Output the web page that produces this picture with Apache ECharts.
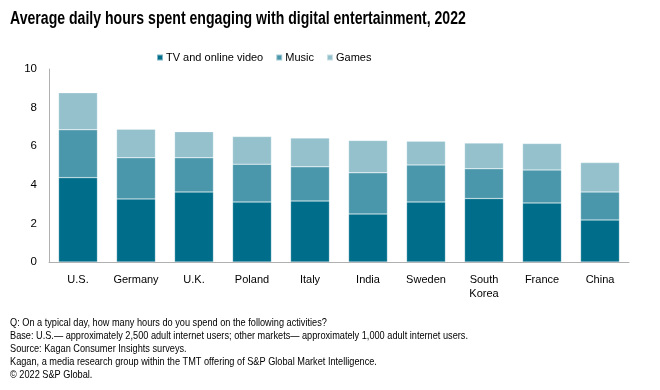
<!DOCTYPE html>
<html><head><meta charset="utf-8">
<script src="https://cdn.jsdelivr.net/npm/echarts@6/dist/echarts.min.js"></script>
<style>html,body{margin:0;padding:0;background:#fff}#c{width:660px;height:390px}</style>
</head><body><div id="c"></div>
<script>
const categories = ["U.S.", "Germany", "U.K.", "Poland", "Italy", "India", "Sweden", "South\nKorea", "France", "China"];
const tvVideo = [4.37, 3.27, 3.63, 3.11, 3.16, 2.49, 3.11, 3.29, 3.06, 2.18];
const music   = [2.48, 2.13, 1.77, 1.96, 1.77, 2.13, 1.92, 1.54, 1.71, 1.45];
const games   = [1.92, 1.48, 1.35, 1.43, 1.49, 1.68, 1.23, 1.33, 1.37, 1.52];
const yTicks = [0, 2, 4, 6, 8, 10];
const titleText = 'Average daily hours spent engaging with digital entertainment, 2022';
const footnote = [
  "Q: On a typical day, how many hours do you spend on the following activities?",
  "Base: U.S.\u2014 approximately 2,500 adult internet users; other markets\u2014 approximately 1,000 adult internet users.",
  "Source: Kagan Consumer Insights surveys.",
  "Kagan, a media research group within the TMT offering of S&P Global Market Intelligence.",
  "\u00a9 2022 S&P Global."
];
const FONT = '"Liberation Sans", Arial, sans-serif';
const chart = echarts.init(document.getElementById('c'), null, {renderer: 'canvas'});
const mk = (name, data, color) => ({
  name, type: 'bar', stack: 'total', data, barWidth: '67%',
  itemStyle: {color, borderColor: 'rgba(255,255,255,0.5)', borderWidth: 0.5},
  emphasis: {disabled: true}
});
chart.setOption({
  animation: false,
  textStyle: {fontFamily: FONT},
  graphic: [
    {type: 'text', x: 10, y: 10, scaleX: 0.805, silent: true,
     style: {text: titleText, font: 'bold 17.5px ' + FONT, fill: '#000', verticalAlign: 'top'}},
    {type: 'text', x: 10, y: 316, scaleX: 0.835, silent: true,
     style: {text: footnote.join('\n'), font: '11px ' + FONT, fill: '#000', verticalAlign: 'top', lineHeight: 13}}
  ],
  legend: {
    left: 151, top: 47, itemWidth: 6, itemHeight: 6, itemGap: 12, icon: 'rect',
    textStyle: {fontFamily: FONT, fontSize: 11, color: '#000', padding: [0, 0, 0, -2]},
    data: ['TV and online video', 'Music', 'Games']
  },
  grid: {left: 49, right: 31, top: 69, bottom: 128, containLabel: false},
  xAxis: {
    type: 'category', data: categories,
    axisLine: {lineStyle: {color: '#b0b0b0', width: 1}},
    axisTick: {show: false},
    axisLabel: {fontFamily: FONT, fontSize: 11, color: '#000', margin: 11, lineHeight: 14, interval: 0}
  },
  yAxis: {
    type: 'value', min: yTicks[0], max: yTicks[yTicks.length - 1], interval: 2,
    axisLine: {show: true, lineStyle: {color: '#b0b0b0', width: 1}},
    axisTick: {show: false},
    splitLine: {show: false},
    axisLabel: {fontFamily: FONT, fontSize: 11.5, color: '#000', margin: 12}
  },
  series: [
    mk('TV and online video', tvVideo, '#006e8a'),
    mk('Music', music, '#4a97ab'),
    mk('Games', games, '#95c1cd')
  ]
});
</script></body></html>
